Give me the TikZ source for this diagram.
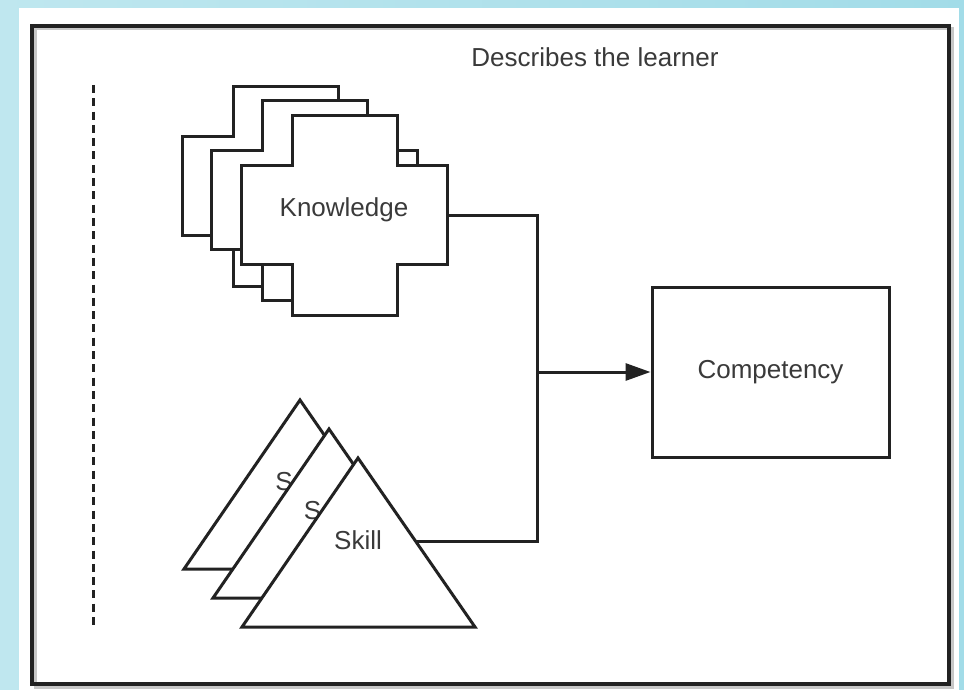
\documentclass[tikz,border=0pt]{standalone}
\usepackage{fontspec}
\setmainfont{Liberation Sans}
\usetikzlibrary{arrows.meta}
\definecolor{bgl}{HTML}{BFE7EF}
\definecolor{bgr}{HTML}{A2DCE8}
\definecolor{ink}{HTML}{222222}
\definecolor{txt}{HTML}{3A3A3A}
\begin{document}
\begin{tikzpicture}[x=1pt,y=-1pt,line join=miter,
  shapebox/.style={draw=ink,line width=3pt,fill=white},
  lbl/.style={text=txt,font=\fontsize{26}{30}\selectfont,inner sep=0pt},
  conn/.style={draw=ink,line width=3pt}]
\useasboundingbox (0,0) rectangle (964,690);
\shade[left color=bgl,right color=bgr] (0,0) rectangle (964,690);
\fill[white] (19,8) rectangle (959,690);
% frame
\draw[black!22,line width=3pt] (35,29) rectangle (952,687);
\draw[ink,line width=3.4pt] (32,26) rectangle (949,684);
\node[lbl] (title) at (595,57) {Describes the learner};
% dashed line
\coordinate (dtop) at (93,85);
\coordinate (dbot) at (93,628);
\draw[ink,line width=3pt,dash pattern=on 8pt off 5.3pt] (dtop) -- (dbot);
% knowledge crosses
\foreach \dx/\dy in {-59/-29,-30/-15,0/0}{
  \begin{scope}[shift={(\dx,\dy)}]
    \draw[shapebox] (292,116) -- (397,116) -- (397,166) -- (447,166) -- (447,264)
      -- (397,264) -- (397,315) -- (292,315) -- (292,264) -- (241,264)
      -- (241,166) -- (292,166) -- cycle;
  \end{scope}
}
\node[lbl] (knowledge) at (344,210) {Knowledge};
% skill triangles
\draw[shapebox] (300,400) -- (417,569) -- (184,569) -- cycle;
\node[lbl] (s1) at (284,482) {S};
\draw[shapebox] (329,429) -- (446,598) -- (213,598) -- cycle;
\node[lbl] (s2) at (312.5,511) {S};
\draw[shapebox] (358,458) -- (475,627) -- (242,627) -- cycle;
\node[lbl] (skill) at (358,540) {Skill};
% competency
\node[draw=ink,line width=3pt,minimum width=237pt,minimum height=170pt,
  inner sep=0pt,font=\fontsize{26}{30}\selectfont,text=txt] (comp) at (770.5,372) {Competency};
% connectors
\coordinate (kout) at (447,215);
\coordinate (sout) at (416,541);
\coordinate (j1) at (537,215);
\coordinate (j2) at (537,541);
\coordinate (jm) at (537,372);
\draw[conn] (kout) -- (j1) -- (j2) -- (sout);
\draw[conn,-{Triangle[length=25pt,width=17pt]}] (jm) -- (comp.west);
\end{tikzpicture}
\end{document}
